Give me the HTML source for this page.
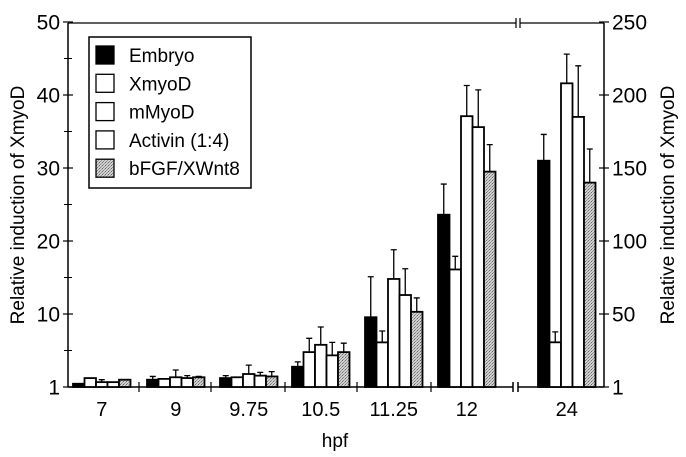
<!DOCTYPE html>
<html><head><meta charset="utf-8"><style>
body{margin:0;background:#fff;}
svg{display:block;font-family:"Liberation Sans",Arial,sans-serif;}
</style></head><body>
<svg id="chart" width="686" height="457" viewBox="0 0 686 457">
<defs>
<pattern id="dots" width="3" height="3" patternUnits="userSpaceOnUse">
<rect width="3" height="3" fill="#d0d0d0"/><rect x="0" y="0" width="1" height="1" fill="#666"/><rect x="2" y="1" width="1" height="1" fill="#999"/><rect x="1" y="2" width="1" height="1" fill="#888"/>
</pattern>
</defs>
<g id="axes"></g>
<g id="bars"></g>
<g id="legend"></g>
</svg>
<script>
const categories = ["7","9","9.75","10.5","11.25","12","24"];
const seriesNames = ["Embryo","XmyoD","mMyoD","Activin (1:4)","bFGF/XWnt8"];
// values: first six groups on left axis, last group (24 hpf) on right axis
const embryo  = [1.4, 1.9, 2.1, 3.5, 9.6, 23.6, 155];
const xmyod   = [2.1, 2.0, 2.2, 5.3, 6.5, 16.1, 31];
const mmyod   = [1.6, 2.2, 2.6, 6.2, 14.8, 37.1, 208];
const activin = [1.6, 2.1, 2.4, 4.9, 12.6, 35.6, 185];
const bfgf    = [1.9, 2.2, 2.3, 5.3, 10.3, 29.5, 140];
const embryoErr  = [1.4, 2.3, 2.4, 4.1, 15.1, 27.8, 173];
const xmyodErr   = [2.1, 2.0, 2.2, 7.0, 7.9, 17.9, 38];
const mmyodErr   = [1.9, 3.1, 3.7, 8.4, 18.8, 41.3, 228];
const activinErr = [1.6, 2.4, 2.8, 6.5, 16.2, 40.7, 220];
const bfgfErr    = [1.9, 2.3, 2.9, 6.4, 12.2, 33.2, 163];
const leftTicks = [1,10,20,30,40,50];
const rightTicks = [1,50,100,150,200,250];

const NS="http://www.w3.org/2000/svg";
const gA=document.getElementById('axes'), gB=document.getElementById('bars'), gL=document.getElementById('legend');
function mk(tag,attrs,parent){const e=document.createElementNS(NS,tag);for(const k in attrs)e.setAttribute(k,attrs[k]);parent.appendChild(e);return e;}
const Y0=387, STEP=73;
function yLeft(v){return v<=10? Y0-(v-1)/9*STEP : Y0-STEP-(v-10)/10*STEP;}
function yRight(v){return v<=50? Y0-(v-1)/49*STEP : Y0-STEP-(v-50)/50*STEP;}
const groupStart=[73,147,220,292,365,438,538];
const BW=11.5;
function xBar(g,s){return groupStart[g]+s*BW;}
const LX=68, RX=604;

let l;
l=mk('line',{x1:LX,y1:23,x2:LX,y2:Y0,stroke:'#000','stroke-width':1.5},gA);

l=mk('line',{x1:RX,y1:23,x2:RX,y2:Y0,stroke:'#000','stroke-width':1.5},gA);

l=mk('path',{d:`M${LX} 23 H516 M520 23 H${RX} M516 18 V28 M520 18 V28`,stroke:'#000','stroke-width':1.2,fill:'none'},gA);

l=mk('path',{d:`M${LX} ${Y0} H513 M518 ${Y0} H${RX} M513 ${Y0-5} V${Y0+5} M518 ${Y0-5} V${Y0+5}`,stroke:'#000','stroke-width':1.5,fill:'none'},gA);

[139,211,285,357,431].forEach(x=>{const t=mk('line',{x1:x,y1:Y0-5,x2:x,y2:Y0+5,stroke:'#000','stroke-width':1.2},gA);
});
leftTicks.forEach((v,i)=>{const y=yLeft(v);
 const t=mk('line',{x1:LX-5,y1:y,x2:LX+5,y2:y,stroke:'#000','stroke-width':1.2},gA);
 
 const tx=mk('text',{x:LX-8,y:y+7.5,'text-anchor':'end','font-size':21},gA);tx.textContent=v;
 
 if(i<leftTicks.length-1&&i>0){const ym=y-STEP/2;const m=mk('line',{x1:LX-4,y1:ym,x2:LX+4,y2:ym,stroke:'#000','stroke-width':1},gA);
 }
});
{const m=mk('line',{x1:LX-4,y1:yLeft(10)+STEP/2,x2:LX+4,y2:yLeft(10)+STEP/2,stroke:'#000'},gA);}
rightTicks.forEach(v=>{const y=yRight(v);
 const t=mk('line',{x1:RX-5,y1:y,x2:RX+5,y2:y,stroke:'#000','stroke-width':1.2},gA);
 
 const tx=mk('text',{x:RX+8,y:y+7.5,'font-size':21},gA);tx.textContent=v;
 
});
categories.forEach((c,i)=>{const cx=groupStart[i]+BW*2.5;
 const tx=mk('text',{x:cx,y:416,'text-anchor':'middle','font-size':20},gA);tx.textContent=c;
 });
let tt=mk('text',{x:335,y:447,'text-anchor':'middle','font-size':19},gA);tt.textContent='hpf';

tt=mk('text',{x:24,y:205,'text-anchor':'middle','font-size':19,transform:'rotate(-90 24 205)'},gA);tt.textContent='Relative induction of XmyoD';

tt=mk('text',{x:674,y:205,'text-anchor':'middle','font-size':19,transform:'rotate(-90 674 205)'},gA);tt.textContent='Relative induction of XmyoD';


const series=[embryo,xmyod,mmyod,activin,bfgf];
const errs=[embryoErr,xmyodErr,mmyodErr,activinErr,bfgfErr];
const fills=['#000','#fff','#fff','#fff','url(#dots)'];
const keys=['embryo','xmyod','mmyod','activin','bfgf'];
series.forEach((arr,s)=>{arr.forEach((v,g)=>{
 const yf=g===6?yRight:yLeft;const y=yf(v);const x=xBar(g,s);
 const r=mk('rect',{x:x,y:y,width:BW,height:Math.max(0,Y0-y),fill:fills[s],stroke:'#000','stroke-width':1.8},gB);
 
 const e=errs[s][g];if(e>v){const ye=yf(e);const cx=x+BW/2;
  const p=mk('path',{d:`M${cx} ${y} V${ye} M${cx-3} ${ye} H${cx+3}`,stroke:'#000','stroke-width':1.3,fill:'none'},gB);
  }
});});

const lb=mk('rect',{x:89,y:37,width:162,height:151,fill:'#fff',stroke:'#000','stroke-width':1.5},gL);

seriesNames.forEach((n,i)=>{const cy=55+i*28.3;
 const sw=mk('rect',{x:96,y:cy-9,width:18,height:18,fill:fills[i],stroke:'#000','stroke-width':1.3},gL);
 
 const t=mk('text',{x:129,y:cy+7,'font-size':19},gL);t.textContent=n;
 });
</script>
</body></html>
